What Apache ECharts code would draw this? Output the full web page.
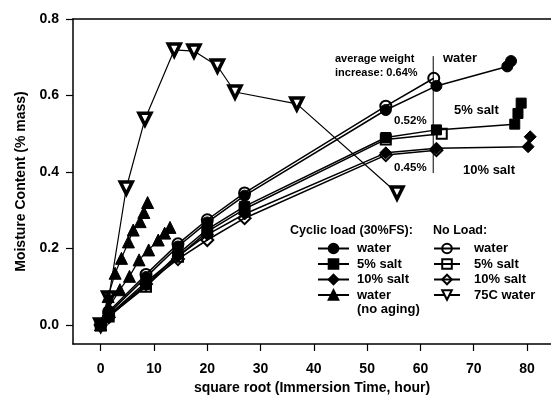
<!DOCTYPE html>
<html>
  <head>
    <title>Moisture Content</title>
    <meta charset='utf-8' />
    <script src="https://cdn.jsdelivr.net/npm/echarts@6/dist/echarts.min.js"></script>
    <style>
      html, body { margin: 0; padding: 0; background: #fff; }
    </style>
  </head>
  <body>
    <div id="content" style="width: 551px; height: 401px;"></div>

    <script type="text/javascript">
      // square root of immersion time (hour^0.5) and moisture content (% mass)
      var cycWaterX = [0, 1.5, 8.5, 14.5, 20, 27, 53.5, 63, 76.3, 77];
      var cycWaterY = [0, 0.03, 0.125, 0.205, 0.268, 0.338, 0.562, 0.625, 0.676, 0.69];

      var cyc5X = [0, 1.5, 8.5, 14.5, 20, 27, 53.5, 63, 77.7, 78.3, 78.9];
      var cyc5Y = [0, 0.025, 0.105, 0.185, 0.25, 0.31, 0.49, 0.51, 0.525, 0.553, 0.58];

      var cyc10X = [0, 1.5, 8.5, 14.5, 20, 27, 53.5, 63, 80.2, 80.6];
      var cyc10Y = [0, 0.025, 0.112, 0.18, 0.236, 0.29, 0.45, 0.462, 0.466, 0.492];

      // water, no aging (two specimens)
      var triAX = [0, 1.4, 2.7, 3.9, 5.2, 6.1, 7.4, 8.1, 8.8];
      var triAY = [0, 0.074, 0.135, 0.174, 0.217, 0.248, 0.27, 0.294, 0.32];
      var triBX = [0, 1.5, 3.6, 5.4, 7.2, 9, 10.8, 12, 13];
      var triBY = [0, 0.045, 0.092, 0.127, 0.17, 0.196, 0.222, 0.24, 0.255];

      var noWaterX = [0, 1.5, 8.5, 14.5, 20, 27, 53.5, 62.5];
      var noWaterY = [0, 0.035, 0.132, 0.212, 0.275, 0.345, 0.572, 0.645];

      var no5X = [0, 1.5, 8.5, 14.5, 20, 27, 53.5, 64];
      var no5Y = [0, 0.022, 0.1, 0.178, 0.244, 0.303, 0.485, 0.5];

      var no10X = [0, 1.5, 8.5, 14.5, 20, 27, 53.5, 63];
      var no10Y = [0, 0.02, 0.107, 0.172, 0.222, 0.279, 0.444, 0.457];

      var hotX = [0, 1.5, 4.8, 8.3, 13.8, 17.5, 21.9, 25.2, 36.8, 55.6];
      var hotY = [0, 0.07, 0.358, 0.538, 0.719, 0.716, 0.677, 0.609, 0.578, 0.345];

      // vertical marker at the average-weight time
      var markX = [62.4, 62.4];
      var markY = [0.397, 0.703];

      var xTicks = [0, 10, 20, 30, 40, 50, 60, 70, 80];
      var yTicks = [0, 0.2, 0.4, 0.6, 0.8];

      var labels = {
        'Cyclic water': 'water',
        'Cyclic 5% salt': '5% salt',
        'Cyclic 10% salt': '10% salt',
        'Cyclic water (no aging)': 'water',
        'No-load water': 'water',
        'No-load 5% salt': '5% salt',
        'No-load 10% salt': '10% salt',
        'No-load 75C water': '75C water'
      };

      var FONT = 'Liberation Sans, Arial, sans-serif';

      function pairs(xs, ys) {
        var out = [];
        for (var i = 0; i < xs.length; i++) out.push([xs[i], ys[i]]);
        return out;
      }

      function mk(name, xs, ys, symbol, size, filled, extra) {
        var s = {
          name: name,
          type: 'line',
          data: pairs(xs, ys),
          symbol: symbol,
          symbolSize: size,
          showAllSymbol: true,
          lineStyle: { color: '#000', width: 1.5 },
          itemStyle: filled
            ? { color: '#000', borderColor: '#000', borderWidth: 1 }
            : { color: 'rgba(255,255,255,0)', borderColor: '#000', borderWidth: 2 },
          emphasis: { disabled: true },
          animation: false,
          z: 3
        };
        if (extra) for (var k in extra) s[k] = extra[k];
        return s;
      }

      var myChart = echarts.init(document.getElementById('content'));

      var options = {
        backgroundColor: '#fff',
        animation: false,
        grid: { left: 73, top: 19, right: 0, bottom: 57 },
        xAxis: [{
          type: 'value',
          min: -5.2, max: 84.5,
          name: 'square root (Immersion Time, hour)',
          nameLocation: 'middle',
          nameGap: 35,
          nameTextStyle: { fontFamily: FONT, fontSize: 14, fontWeight: 'bold', color: '#000' },
          axisLine: { onZero: false, lineStyle: { color: '#000', width: 1.5 } },
          axisTick: { customValues: xTicks, length: 7, lineStyle: { color: '#000', width: 1.2 } },
          axisLabel: {
            customValues: xTicks, margin: 18,
            fontFamily: FONT, fontSize: 14, fontWeight: 'bold', color: '#000'
          },
          splitLine: { show: false }
        }, {
          // top frame line only
          type: 'value',
          position: 'top',
          min: -5.2, max: 84.5,
          axisLine: { onZero: false, lineStyle: { color: '#000', width: 1.5 } },
          axisTick: { show: false },
          axisLabel: { show: false },
          splitLine: { show: false }
        }],
        yAxis: {
          type: 'value',
          min: -0.05, max: 0.8,
          name: 'Moisture Content (% mass)',
          nameLocation: 'middle',
          nameGap: 44,
          nameTextStyle: { fontFamily: FONT, fontSize: 14, fontWeight: 'bold', color: '#000' },
          axisLine: { onZero: false, lineStyle: { color: '#000', width: 1.5 } },
          axisTick: { customValues: yTicks, length: 7, lineStyle: { color: '#000', width: 1.2 } },
          axisLabel: {
            customValues: yTicks, margin: 14,
            formatter: function (v) { return v.toFixed(1); },
            fontFamily: FONT, fontSize: 14, fontWeight: 'bold', color: '#000'
          },
          splitLine: { show: false }
        },
        legend: [{
          data: ['Cyclic water', 'Cyclic 5% salt', 'Cyclic 10% salt', 'Cyclic water (no aging)'],
          orient: 'vertical',
          left: 312, top: 237,
          itemWidth: 31, itemHeight: 12, itemGap: 2.5,
          formatter: function (name) { return labels[name]; },
          textStyle: { fontFamily: FONT, fontSize: 13, fontWeight: 'bold', color: '#000', padding: [0, 0, 0, 3] },
          selectedMode: false
        }, {
          data: ['No-load water', 'No-load 5% salt', 'No-load 10% salt', 'No-load 75C water'],
          orient: 'vertical',
          left: 428, top: 237,
          itemWidth: 26, itemHeight: 12, itemGap: 2.5,
          formatter: function (name) { return labels[name]; },
          textStyle: { fontFamily: FONT, fontSize: 13, fontWeight: 'bold', color: '#000', padding: [0, 0, 0, 9] },
          selectedMode: false
        }],
        graphic: [
          { type: 'text', x: 290, y: 231, style: { text: 'Cyclic load (30%FS):', font: 'bold 12.5px ' + FONT, fill: '#000', verticalAlign: 'middle' } },
          { type: 'text', x: 433, y: 231, style: { text: 'No Load:', font: 'bold 12.5px ' + FONT, fill: '#000', verticalAlign: 'middle' } },
          { type: 'text', x: 357, y: 309, style: { text: '(no aging)', font: 'bold 13px ' + FONT, fill: '#000', verticalAlign: 'middle' } },
          { type: 'text', x: 335, y: 59, style: { text: 'average weight', font: 'bold 11px ' + FONT, fill: '#000', verticalAlign: 'middle' } },
          { type: 'text', x: 335, y: 73, style: { text: 'increase: 0.64%', font: 'bold 11px ' + FONT, fill: '#000', verticalAlign: 'middle' } },
          { type: 'text', x: 443, y: 58, style: { text: 'water', font: 'bold 13px ' + FONT, fill: '#000', verticalAlign: 'middle' } },
          { type: 'text', x: 454, y: 110, style: { text: '5% salt', font: 'bold 13px ' + FONT, fill: '#000', verticalAlign: 'middle' } },
          { type: 'text', x: 394, y: 121, style: { text: '0.52%', font: 'bold 11.5px ' + FONT, fill: '#000', verticalAlign: 'middle' } },
          { type: 'text', x: 394, y: 168, style: { text: '0.45%', font: 'bold 11.5px ' + FONT, fill: '#000', verticalAlign: 'middle' } },
          { type: 'text', x: 463, y: 170, style: { text: '10% salt', font: 'bold 13px ' + FONT, fill: '#000', verticalAlign: 'middle' } }
        ],
        series: [
          mk('No-load 75C water', hotX, hotY, 'triangle', 12, false,
             { symbolRotate: 180, lineStyle: { color: '#000', width: 1.2 },
               itemStyle: { color: '#fff', borderColor: '#000', borderWidth: 3.5 } }),
          mk('Cyclic water (no aging)', triAX, triAY, 'triangle', 12, true, { lineStyle: { color: '#000', width: 1.2 } }),
          mk('Cyclic water (no aging)', triBX, triBY, 'triangle', 12, true, { lineStyle: { color: '#000', width: 1.2 } }),
          mk('No-load 10% salt', no10X, no10Y, 'diamond', 12, false),
          mk('Cyclic 10% salt', cyc10X, cyc10Y, 'diamond', 12, true),
          mk('No-load 5% salt', no5X, no5Y, 'rect', 10, false),
          mk('Cyclic 5% salt', cyc5X, cyc5Y, 'rect', 10, true),
          mk('No-load water', noWaterX, noWaterY, 'circle', 11, false),
          mk('Cyclic water', cycWaterX, cycWaterY, 'circle', 11, true),
          {
            type: 'line',
            data: pairs(markX, markY),
            symbol: 'none',
            lineStyle: { color: '#000', width: 1 },
            silent: true,
            animation: false,
            z: 2
          }
        ]
      };
      myChart.setOption(options);
    </script>
  </body>
</html>
